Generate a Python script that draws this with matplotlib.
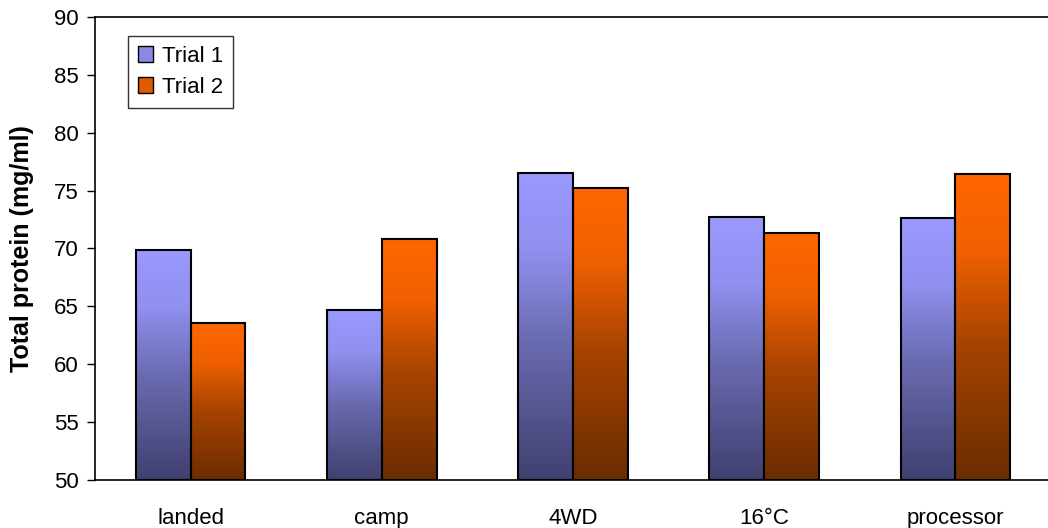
import matplotlib.pyplot as plt
import numpy as np
from matplotlib.colors import LinearSegmentedColormap
from matplotlib.patches import Patch

plt.rcParams['font.family'] = ['Liberation Sans', 'DejaVu Sans']

categories = ["landed", "camp", "4WD", "16°C", "processor"]
trial1 = [69.9, 64.7, 76.5, 72.7, 72.6]
trial2 = [63.6, 70.8, 75.2, 71.3, 76.4]

BAR_W = 0.287
T1_STOPS = [(0.0, "#404070"), (0.45, "#6A6AB0"), (0.75, "#9090F0"), (1.0, "#9999FF")]
T2_STOPS = [(0.0, "#6B2C00"), (0.45, "#A84400"), (0.75, "#F06000"), (1.0, "#FF6600")]


def gradient_bars(ax, xs, heights, stops, base):
    cmap = LinearSegmentedColormap.from_list("g", stops)
    grad = np.linspace(0, 1, 256).reshape(-1, 1)
    bars = ax.bar(xs, np.array(heights) - base, BAR_W, bottom=base,
                  facecolor="none", edgecolor="black", linewidth=1.5, zorder=3)
    for b in bars:
        x0, y0 = b.get_x(), b.get_y()
        im = ax.imshow(grad, cmap=cmap, aspect="auto", origin="lower",
                       extent=[x0, x0 + b.get_width(), y0, y0 + b.get_height()],
                       zorder=2)
        im.set_clip_path(b)
    return bars


fig = plt.figure(figsize=(10.48, 5.28), dpi=100)
ax = fig.add_axes([95 / 1048, 48 / 528, 956 / 1048, 463 / 528])

x = np.arange(len(categories))
gradient_bars(ax, x - BAR_W / 2, trial1, T1_STOPS, 50)
gradient_bars(ax, x + BAR_W / 2, trial2, T2_STOPS, 50)

ax.set_xlim(-0.5, len(categories) - 0.5)
ax.set_ylim(50, 90)
ax.set_yticks(range(50, 91, 5))
ax.set_xticks(x)
ax.set_xticklabels(categories, fontsize=16)
ax.tick_params(axis="x", length=0, pad=20)
ax.tick_params(axis="y", labelsize=16, length=6, direction="out", width=1, pad=6)
ax.set_ylabel("Total protein (mg/ml)", fontsize=18, fontweight="bold", labelpad=14)

for side in ("top", "left", "bottom"):
    ax.spines[side].set_linewidth(1.2)
ax.spines["right"].set_visible(False)

handles = [Patch(facecolor="#8A8AE6", edgecolor="black", label="Trial 1"),
           Patch(facecolor="#E05A00", edgecolor="black", label="Trial 2")]
leg = ax.legend(handles=handles, loc="upper left", bbox_to_anchor=(0.034, 0.96),
                fontsize=16, frameon=True, fancybox=False, handlelength=0.7,
                handleheight=0.7, handletextpad=0.4, borderpad=0.45,
                labelspacing=0.45, borderaxespad=0)
leg.get_frame().set_edgecolor("black")
leg.get_frame().set_linewidth(1.0)

fig.savefig("out.png", dpi=100)
